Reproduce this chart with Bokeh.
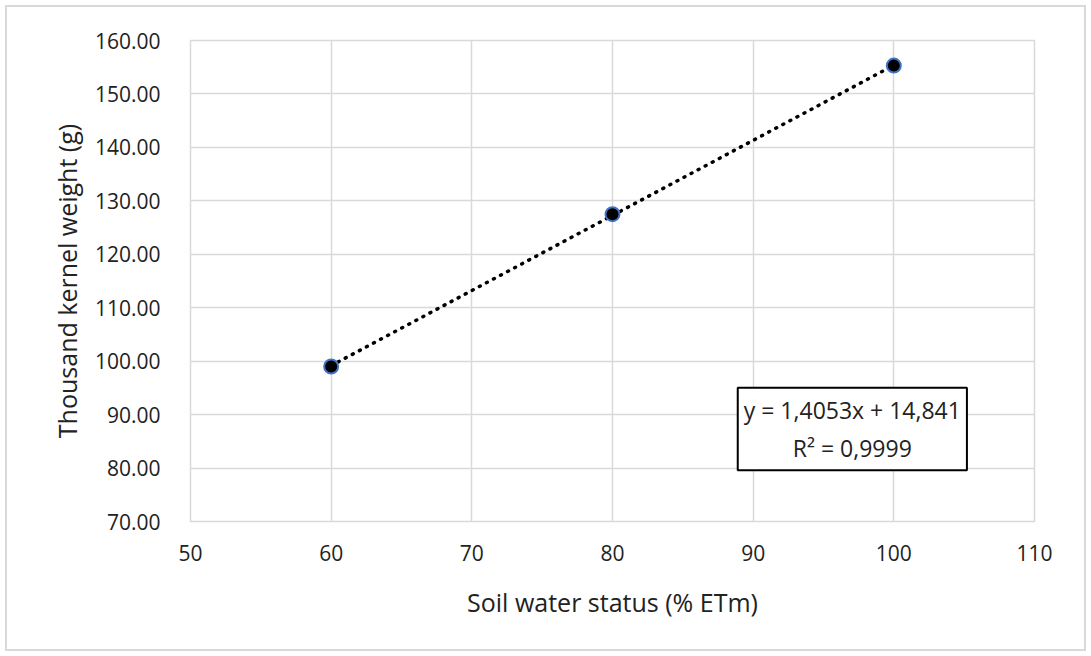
from bokeh.plotting import figure
from bokeh.models import Label, FixedTicker, CustomJSTickFormatter, Range1d
from bokeh.embed import file_html
from bokeh.resources import INLINE

water_status = [60, 80, 100]
kernel_weight = [99.0, 127.5, 155.3]
slope = 1.4053
intercept = 14.841
r_squared = 0.9999
x_ticks = [50, 60, 70, 80, 90, 100, 110]
y_ticks = [70, 80, 90, 100, 110, 120, 130, 140, 150, 160]

FONT = "Open Sans"
GRID = "#d9d9d9"

p = figure(width=1077, height=642, output_backend="svg", toolbar_location=None,
           x_range=Range1d(50, 110), y_range=Range1d(70, 160),
           min_border_left=183, min_border_right=50, min_border_top=33, min_border_bottom=128)
p.margin = (7, 7, 7, 7)
p.styles = {"outline": "2px solid #d9d9d9"}
p.outline_line_color = GRID
p.outline_line_width = 1.5

for ax in (p.xaxis[0], p.yaxis[0]):
    ax.axis_line_color = None
    ax.major_tick_line_color = None
    ax.minor_tick_line_color = None
    ax.major_label_text_font = FONT
    ax.major_label_text_font_size = "21px"
    ax.major_label_text_color = "#222222"
    ax.axis_label_text_font = FONT
    ax.axis_label_text_font_size = "25px"
    ax.axis_label_text_font_style = "normal"
    ax.axis_label_text_color = "#222222"

p.xaxis.ticker = FixedTicker(ticks=x_ticks)
p.yaxis.ticker = FixedTicker(ticks=y_ticks)
p.yaxis.formatter = CustomJSTickFormatter(code="return tick.toFixed(2);")
p.xaxis.major_label_standoff = 17
p.yaxis.major_label_standoff = 24
p.xaxis.axis_label = "Soil water status (% ETm)"
p.yaxis.axis_label = "Thousand kernel weight (g)"
p.xaxis.axis_label_standoff = 21
p.yaxis.axis_label_standoff = 8

p.xgrid.grid_line_color = GRID
p.ygrid.grid_line_color = GRID
p.xgrid.grid_line_width = 1.5
p.ygrid.grid_line_width = 1.5

trend_x = [water_status[0], water_status[-1]]
trend_y = [slope * x + intercept for x in trend_x]
p.line(trend_x, trend_y, line_color="black", line_width=3.5, line_dash="1 7", line_cap="round")
p.scatter(water_status, kernel_weight, size=14, fill_color="black",
          line_color="#4472c4", line_width=2)

eq = "y = {:.4f}x + {:.3f}\nR\u00b2 = {:.4f}".format(slope, intercept, r_squared).replace(".", ",")
lab = Label(x=97.05, y=87.3, text=eq, text_align="center", text_baseline="middle",
            text_font=FONT, text_font_size="23px", text_color="#222222",
            border_line_color="black", border_line_width=2, background_fill_color="white",
            padding=6)
p.add_layout(lab)

open("out.html", "w").write(file_html(p, INLINE))
